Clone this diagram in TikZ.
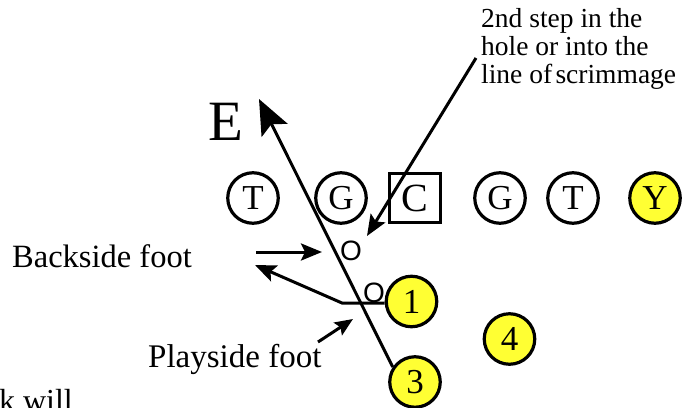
\documentclass[tikz,border=0pt]{standalone}
\usepackage{fontspec}
\setmainfont{Liberation Serif}
\newfontfamily\markfont{Liberation Sans}
\usetikzlibrary{arrows.meta}
\definecolor{playyellow}{HTML}{FFFF33}
\tikzset{
  player/.style={circle,draw=black,line width=3.2pt,minimum size=50.5pt,inner sep=0pt,font=\fontsize{35}{38}\selectfont},
  backplayer/.style={player,fill=playyellow},
  centerbox/.style={rectangle,draw=black,line width=3.2pt,minimum width=51pt,minimum height=49pt,inner sep=0pt,font=\fontsize{40}{42}\selectfont},
  lbl/.style={inner sep=0pt,anchor=base west},
  conn/.style={line width=3pt,line join=miter},
  bighead/.style={-{Stealth[length=35pt,width=29pt,inset=7pt]}},
  smallhead/.style={-{Stealth[length=21pt,width=17pt,inset=4pt]}},
  tinyhead/.style={-{Stealth[length=18pt,width=15pt,inset=3pt]}},
  stepmark/.style={inner sep=0pt,anchor=base,font=\markfont\fontsize{28}{30}\selectfont}
}
\begin{document}
\begin{tikzpicture}[x=1pt,y=-1pt]
\useasboundingbox (0,0) rectangle (688,407);
\clip (0,0) rectangle (688,407);
% line
\node[player] (lt) at (253,198) {T};
\node[player] (lg) at (341,198) {G};
\node[centerbox] (c) at (415,198) {C};
\node[player] (rg) at (500,198) {G};
\node[player] (rt) at (573,198) {T};
\node[backplayer] (y) at (655,198) {Y};
% backs
\node[backplayer] (n1) at (411.5,301.5) {1};
\node[backplayer] (n4) at (509.5,339) {4};
\node[backplayer] (n3) at (415,382) {3};
% labels
\node[lbl,font=\fontsize{57}{60}\selectfont] (e) at (208,140) {E};
\node[lbl,font=\fontsize{32.5}{36}\selectfont] (bs) at (12,267) {Backside foot};
\node[lbl,font=\fontsize{33}{38}\selectfont] (ps) at (148,367) {Playside foot};
\node[inner sep=0pt,anchor=base east,font=\fontsize{32}{36}\selectfont] (cw) at (73,411) {ck will};
\node[lbl,font=\fontsize{27.5}{28}\selectfont] (t1) at (481,27) {2nd step in the};
\node[lbl,font=\fontsize{27.5}{28}\selectfont] (t2) at (481,55) {hole or into the};
\node[lbl,font=\fontsize{27.5}{28}\selectfont] (t3) at (481,83) {line of\hspace{0.12em}scrimmage};
% step marks
\node[stepmark] (o1) at (351,260) {O};
\node[stepmark] (o2) at (374,302) {O};
% connector points
\coordinate (etip) at (259,99);
\coordinate (sstart) at (476,58);
\coordinate (stip) at (367,236);
\coordinate (bsa) at (256,252);
\coordinate (bsb) at (322,252);
\coordinate (kink) at (342,303);
\coordinate (btip) at (255,265);
\coordinate (psa) at (318,342);
\coordinate (psb) at (353,319);
% connectors
\draw[conn,bighead] (n3.146) -- (etip);
\draw[conn,smallhead] (sstart) -- (stip);
\draw[conn,smallhead] (bsa) -- (bsb);
\draw[conn,smallhead] (n1.west |- kink) -- (kink) -- (btip);
\draw[conn,tinyhead] (psa) -- (psb);
\end{tikzpicture}
\end{document}
